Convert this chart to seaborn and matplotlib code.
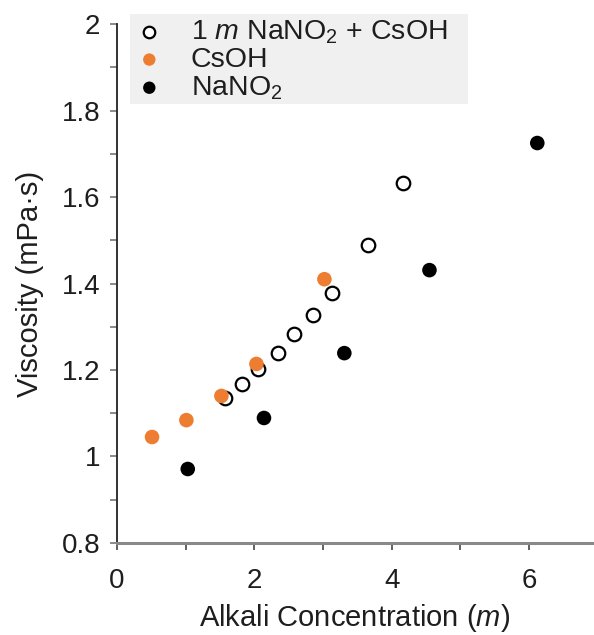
import matplotlib
matplotlib.use("Agg")
import matplotlib.pyplot as plt
import seaborn as sns
import pandas as pd
from matplotlib.patches import Rectangle
from matplotlib.ticker import MultipleLocator, FuncFormatter

# Viscosity data (concentration in mol/kg, viscosity in mPa·s)
mix_conc = [1.57, 1.82, 2.06, 2.34, 2.57, 2.85, 3.13, 3.65, 4.17]
mix_visc = [1.135, 1.168, 1.202, 1.239, 1.283, 1.327, 1.378, 1.489, 1.632]

csoh_conc = [0.51, 1.01, 1.52, 2.03, 3.02]
csoh_visc = [1.045, 1.084, 1.140, 1.214, 1.410]

nano2_conc = [1.03, 2.14, 3.31, 4.55, 6.12]
nano2_visc = [0.971, 1.089, 1.239, 1.431, 1.725]

x_ticks = [0, 2, 4, 6]
y_ticks = [0.8, 1.0, 1.2, 1.4, 1.6, 1.8, 2.0]

sns.set_theme(style="ticks")
plt.rcParams["font.family"] = ["Liberation Sans", "DejaVu Sans"]
plt.rcParams["mathtext.fontset"] = "custom"
plt.rcParams["mathtext.rm"] = "Liberation Sans"
plt.rcParams["mathtext.it"] = "Liberation Sans:italic"

TICK_FS = 20
LABEL_FS = 21
LEG_FS = 20.5
TXT = "#1e1e1e"

W, H = 594, 635
fig = plt.figure(figsize=(W / 100, H / 100), dpi=100)
ax = fig.add_axes([0.197, 0.145, 0.80, 0.817])

mix = pd.DataFrame({"c": mix_conc, "v": mix_visc})
cs = pd.DataFrame({"c": csoh_conc, "v": csoh_visc})
na = pd.DataFrame({"c": nano2_conc, "v": nano2_visc})

sns.scatterplot(data=mix, x="c", y="v", ax=ax, s=95, facecolor="white",
                edgecolor="black", linewidth=1.6, label="1 $m$ NaNO$_2$ + CsOH", zorder=3)
sns.scatterplot(data=cs, x="c", y="v", ax=ax, s=110, color="#ED7D31",
                edgecolor="none", label="CsOH", zorder=4)
sns.scatterplot(data=na, x="c", y="v", ax=ax, s=110, color="black",
                edgecolor="none", label="NaNO$_2$", zorder=4)

ax.set_xlim(0, 6.92)
ax.set_ylim(0.8, 2.0)
ax.set_xticks(x_ticks)
ax.set_yticks(y_ticks)
ax.xaxis.set_minor_locator(MultipleLocator(1))
ax.yaxis.set_minor_locator(MultipleLocator(0.1))
ax.yaxis.set_major_formatter(FuncFormatter(lambda v, p: f"{v:g}"))

for side in ("top", "right"):
    ax.spines[side].set_visible(False)
ax.spines["left"].set_color("#222222")
ax.spines["left"].set_linewidth(1.3)
ax.spines["bottom"].set_color("#888888")
ax.spines["bottom"].set_linewidth(2.2)

ax.tick_params(axis="both", which="both", direction="out", labelsize=TICK_FS,
               colors=TXT, length=5, width=1.2)
ax.tick_params(axis="x", which="both", color="#444444", pad=13)
ax.tick_params(axis="y", which="both", color="#777777", pad=7)

ax.set_xlabel("Alkali Concentration ($m$)", fontsize=LABEL_FS, color=TXT, labelpad=6)
ax.set_ylabel("Viscosity (mPa·s)", fontsize=LABEL_FS, color=TXT, labelpad=13)

# Legend on a light grey panel that reaches slightly above the plot area
leg = ax.legend(loc="upper left", bbox_to_anchor=(0.02, 1.022), frameon=False,
                fontsize=LEG_FS, handletextpad=0.85, borderpad=0.2,
                labelspacing=0.04, borderaxespad=0.0,
                handlelength=1.2, markerscale=0.85)
for t in leg.get_texts():
    t.set_color(TXT)
ax.add_patch(Rectangle((130 / W, 1 - 104 / H), 338 / W, 90 / H,
                       transform=fig.transFigure, facecolor="#f0f0f0",
                       edgecolor="none", clip_on=False, zorder=0.5))

fig.savefig("out.png", dpi=100)
